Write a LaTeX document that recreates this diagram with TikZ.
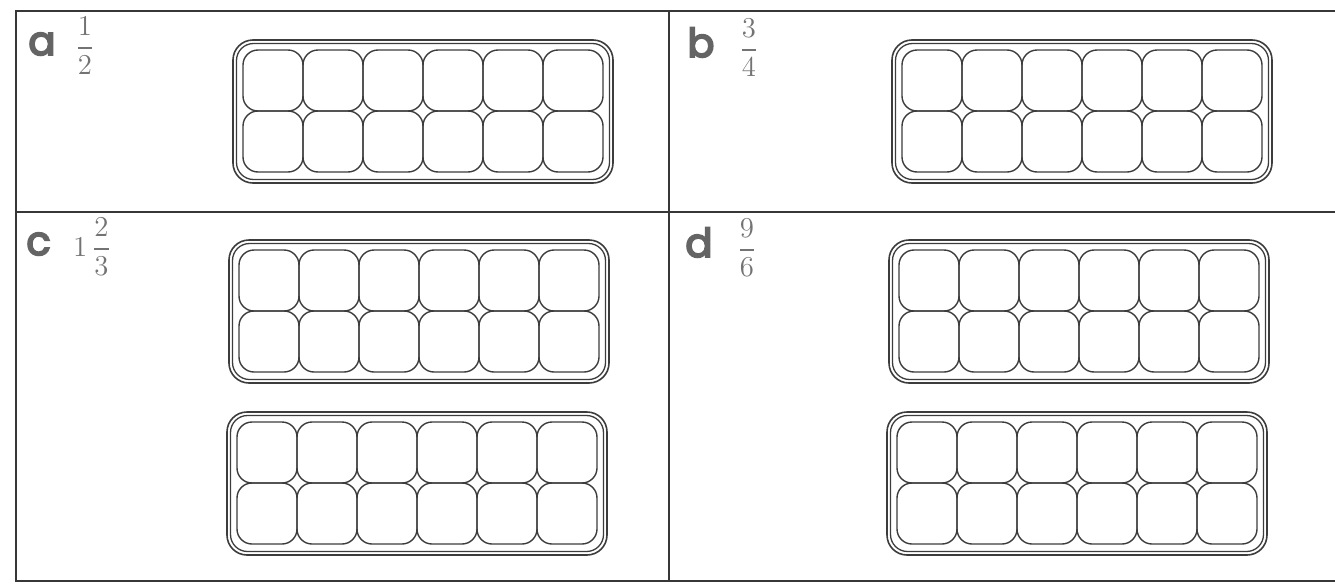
\documentclass[tikz,border=0pt]{standalone}
\usepackage{amsmath}
\usepackage{fontspec}
\usepackage{xcolor}
\usepackage{tikz}
\usetikzlibrary{positioning}
\newfontfamily\lblfont[FakeBold=4.5]{Poppins}
\definecolor{frameline}{RGB}{55,55,55}
\definecolor{trayline}{RGB}{60,60,60}
\definecolor{lblgray}{RGB}{100,100,100}
\definecolor{fracgray}{RGB}{115,115,115}

\begin{document}
\begin{tikzpicture}[x=0.5pt,y=-0.5pt,
    lbl/.style={anchor=base west,inner sep=0pt,text=lblgray,
      font=\lblfont\fontsize{20}{22}\selectfont},
    fracnum/.style={inner sep=0pt,text=fracgray,font=\fontsize{14}{16}\selectfont}]
  \useasboundingbox (0,0) rectangle (1335,584);
  % frame and dividers
  \draw[frameline,line width=0.9pt] (1335,11) -- (16,11) -- (16,581) -- (1335,581);
  \draw[frameline,line width=0.9pt] (669,11) -- (669,581);
  \draw[frameline,line width=0.9pt] (16,212) -- (1335,212);
  % egg trays: double rim, 6 x 2 cups
  \foreach \tx/\ty in {233/40,892/40,229/240,227/412,889/240,887/412} {
    \draw[trayline,line width=0.8pt,rounded corners=10pt]
      (\tx,\ty) rectangle ++(380,143);
    \draw[trayline,line width=0.65pt,rounded corners=8.5pt]
      ({\tx+3.5},{\ty+3.5}) rectangle ++(373,136);
    \foreach \i in {0,...,5}
      \foreach \j in {0,1}
        \draw[trayline,line width=0.7pt,rounded corners=7.5pt]
          ({\tx+10+60*\i},{\ty+10+61*\j}) rectangle ++(60,61);
  }
  % part labels and fractions
  \node[lbl] (lbla) at (28,55) {a};
  \node[fracnum] (fraca) at (85,46) {$\displaystyle\frac{1}{2}$};
  \node[lbl] (lblb) at (687,57) {b};
  \node[fracnum] (fracb) at (749,48) {$\displaystyle\frac{3}{4}$};
  \node[lbl] (lblc) at (26,255) {c};
  \node[fracnum] (fracc) at (92,247) {$\displaystyle1\,\frac{2}{3}$};
  \node[lbl] (lbld) at (685,257) {d};
  \node[fracnum] (fracd) at (747,248) {$\displaystyle\frac{9}{6}$};
\end{tikzpicture}
\end{document}
